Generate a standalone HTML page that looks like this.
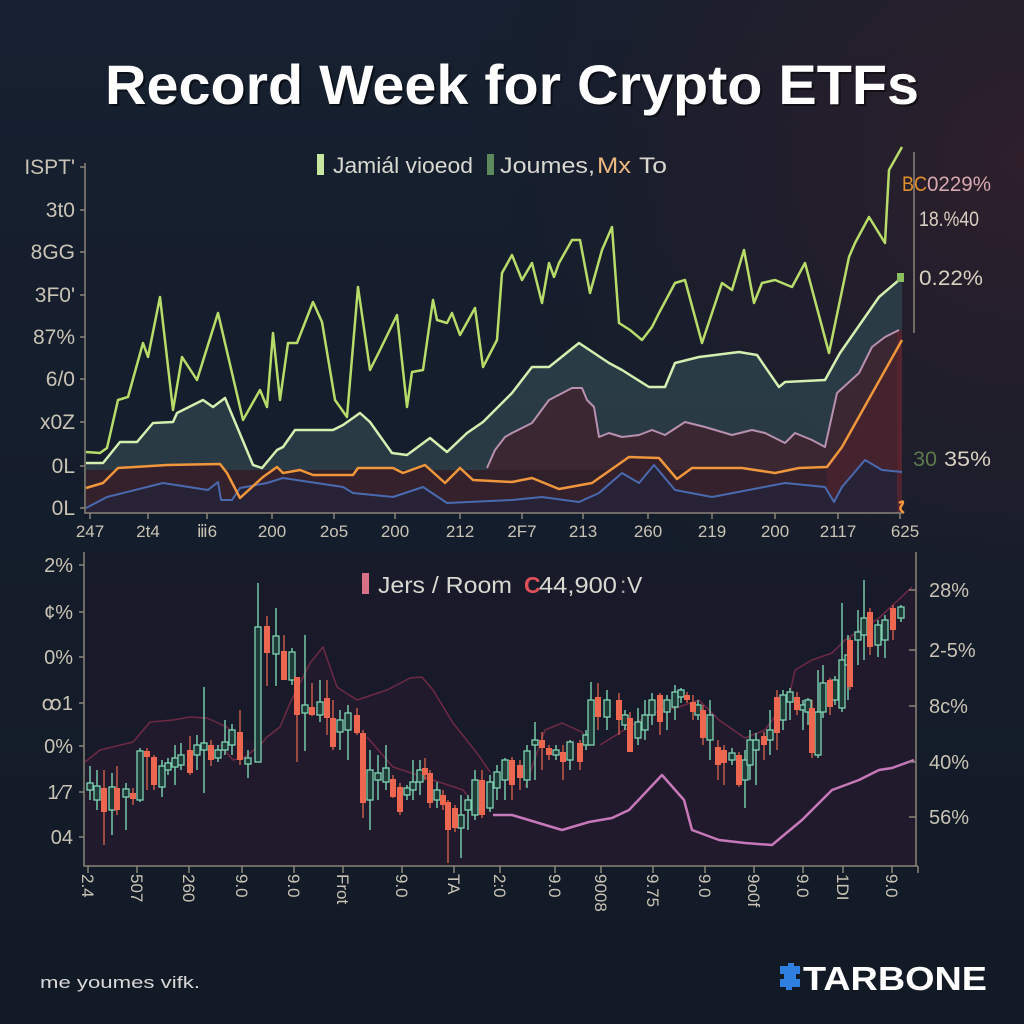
<!DOCTYPE html>
<html><head><meta charset="utf-8"><style>
html,body{margin:0;padding:0;background:#151d2a;}
svg{display:block;}
text{font-family:"Liberation Sans",sans-serif;}
</style></head><body>
<svg width="1024" height="1024" viewBox="0 0 1024 1024" xmlns="http://www.w3.org/2000/svg">
<defs>
<radialGradient id="rg" cx="1024" cy="160" r="560" gradientUnits="userSpaceOnUse">
<stop offset="0" stop-color="#2e1f2b"/><stop offset="0.6" stop-color="#221e2b" stop-opacity="0.6"/><stop offset="1" stop-color="#151d2a" stop-opacity="0"/>
</radialGradient>
<linearGradient id="bg" x1="0" y1="0" x2="0" y2="1">
<stop offset="0" stop-color="#172030"/><stop offset="1" stop-color="#121a26"/>
</linearGradient>
</defs>
<rect width="1024" height="1024" fill="url(#bg)"/>
<rect width="1024" height="1024" fill="url(#rg)"/>

<!-- Title -->
<text x="512" y="104" text-anchor="middle" font-size="56" font-weight="bold" fill="#000" opacity="0.5" textLength="814" lengthAdjust="spacingAndGlyphs" transform="translate(2,2)">Record Week for Crypto ETFs</text>
<text x="512" y="104" text-anchor="middle" font-size="56" font-weight="bold" fill="#ffffff" textLength="814" lengthAdjust="spacingAndGlyphs">Record Week for Crypto ETFs</text>

<!-- ============ TOP CHART ============ -->
<!-- red band -->
<rect x="86" y="466" width="816" height="47" fill="#2f2029"/>
<!-- teal area -->
<path d="M86,463 103,463 120,442 137,442 153,423 173,422 177,413 203,400 213,407 225,398 253,465 262,468 277,450 283,447 295,430 333,430 343,425 360,413 370,422 392,453 407,455 430,438 447,452 467,433 483,422 512,393 532,367 549,367 579,343 609,363 622,370 649,387 665,387 675,363 699,357 739,352 757,355 779,387 785,382 825,380 840,353 879,297 899,280 902,280 902,470 86,470Z" fill="#2b3e48" opacity="0.9"/>
<!-- mauve area -->
<path d="M487,468 495,450 505,437 512,433 532,423 549,400 572,388 582,388 587,400 594,407 599,437 609,433 622,437 639,435 652,430 665,435 685,422 705,427 732,435 752,430 765,433 785,443 795,433 812,440 825,447 837,393 859,373 872,347 885,337 899,330 902,330 902,470 487,470Z" fill="#3b2731"/>
<!-- area under orange -->
<path d="M86,488 103,483 118,468 167,465 220,464 227,473 240,498 263,477 277,467 283,473 300,470 313,475 353,475 358,468 393,468 403,473 425,465 445,483 460,468 473,480 512,482 532,478 559,489 592,483 629,457 659,458 677,479 692,468 742,468 775,473 799,468 827,467 842,447 902,340 902,513 86,513Z" fill="#34212b"/>
<path d="M827,467 842,447 902,340 902,513 827,513Z" fill="#4a2430" opacity="0.8"/>
<!-- area under blue -->
<path d="M86,508 107,497 163,483 208,490 218,482 221,500 232,500 240,488 267,483 283,478 343,487 353,493 393,497 423,487 447,503 512,500 542,497 579,502 599,493 622,473 639,483 654,465 675,490 712,497 785,483 825,487 834,502 842,487 865,460 882,470 902,472 902,513 86,513Z" fill="#272236"/>
<rect x="897" y="330" width="5" height="183" fill="#5a2430" opacity="0.8"/>

<!-- lines -->
<polyline fill="none" stroke="#4a6ab0" stroke-width="2" stroke-linejoin="round" points="86,508 107,497 163,483 208,490 218,482 221,500 232,500 240,488 267,483 283,478 343,487 353,493 393,497 423,487 447,503 512,500 542,497 579,502 599,493 622,473 639,483 654,465 675,490 712,497 785,483 825,487 834,502 842,487 865,460 882,470 902,472"/>
<polyline fill="none" stroke="#f0963c" stroke-width="2.5" stroke-linejoin="round" points="86,488 103,483 118,468 167,465 220,464 227,473 240,498 263,477 277,467 283,473 300,470 313,475 353,475 358,468 393,468 403,473 425,465 445,483 460,468 473,480 512,482 532,478 559,489 592,483 629,457 659,458 677,479 692,468 742,468 775,473 799,468 827,467 842,447 902,340"/>
<polyline fill="none" stroke="#b890b0" stroke-width="2" stroke-linejoin="round" points="487,468 495,450 505,437 512,433 532,423 549,400 572,388 582,388 587,400 594,407 599,437 609,433 622,437 639,435 652,430 665,435 685,422 705,427 732,435 752,430 765,433 785,443 795,433 812,440 825,447 837,393 859,373 872,347 885,337 899,330"/>
<polyline fill="none" stroke="#d4efb0" stroke-width="2.5" stroke-linejoin="round" points="86,463 103,463 120,442 137,442 153,423 173,422 177,413 203,400 213,407 225,398 253,465 262,468 277,450 283,447 295,430 333,430 343,425 360,413 370,422 392,453 407,455 430,438 447,452 467,433 483,422 512,393 532,367 549,367 579,343 609,363 622,370 649,387 665,387 675,363 699,357 739,352 757,355 779,387 785,382 825,380 840,353 879,297 899,280"/>
<polyline fill="none" stroke="#b8dc6a" stroke-width="2.5" stroke-linejoin="round" points="86,452 100,453 107,448 118,400 128,397 143,343 148,357 160,297 173,410 182,357 197,380 218,313 243,420 260,390 267,407 273,333 280,400 288,343 297,343 313,302 322,322 335,400 347,417 358,287 370,370 380,350 397,315 407,407 412,372 423,370 433,300 437,320 447,323 452,313 460,335 475,308 483,367 497,340 502,273 512,255 522,280 532,263 542,303 549,263 554,277 559,263 572,240 580,240 590,293 602,250 612,227 619,323 630,330 642,340 652,327 659,313 675,283 685,280 702,343 722,283 732,290 744,250 754,303 762,283 775,280 792,287 805,263 829,353 849,257 855,243 869,217 885,243 889,170 902,147"/>
<rect x="897" y="273" width="7" height="9" fill="#8ac060"/>
<path d="M899,503 q6,-4 3,2 q-4,4 2,8" stroke="#f0963c" stroke-width="2.5" fill="none"/>

<!-- axes -->
<g stroke="#8a8478" stroke-width="1.5" fill="none">
<path d="M85,163 V513 H902"/>
<path d="M914,152 V333"/>
<path d="M80,167h5M80,210h5M80,252h5M80,295h5M80,337h5M80,379h5M80,422h5M80,466h5M80,508h5"/>
<path d="M90,513v6M148,513v6M207,513v6M272,513v6M334,513v6M395,513v6M460,513v6M522,513v6M583,513v6M648,513v6M712,513v6M775,513v6M838,513v6M900,513v6"/>
</g>
<g font-size="21" fill="#c9c3b5" text-anchor="end">
<text x="75" y="174">ISPT'</text>
<text x="75" y="217">3t0</text>
<text x="75" y="259">8GG</text>
<text x="75" y="302">3F0'</text>
<text x="75" y="344">87%</text>
<text x="75" y="386">6/0</text>
<text x="75" y="429">x0Z</text>
<text x="75" y="473">0L</text>
<text x="75" y="515">0L</text>
</g>
<g font-size="17" fill="#c9c3b5" text-anchor="middle">
<text x="90" y="537">247</text>
<text x="148" y="537">2t4</text>
<text x="207" y="537">ⅲ6</text>
<text x="272" y="537">200</text>
<text x="334" y="537">2o5</text>
<text x="395" y="537">200</text>
<text x="460" y="537">212</text>
<text x="522" y="537">2F7</text>
<text x="583" y="537">213</text>
<text x="648" y="537">260</text>
<text x="712" y="537">219</text>
<text x="775" y="537">200</text>
<text x="838" y="537">2117</text>
<text x="905" y="537">625</text>
</g>
<!-- legend top -->
<rect x="317" y="154" width="7" height="21" fill="#c8e6a0"/>
<text x="333" y="173" font-size="22" fill="#d8d8d0" textLength="140" lengthAdjust="spacingAndGlyphs">Jamiál vioeod</text>
<rect x="487" y="154" width="7" height="21" fill="#5c8a5c"/>
<text x="500" y="173" font-size="22" fill="#d8d8d0" textLength="95" lengthAdjust="spacingAndGlyphs">Joumes,</text>
<text x="597" y="173" font-size="22" fill="#eab880" textLength="34" lengthAdjust="spacingAndGlyphs">Mx</text>
<text x="639" y="173" font-size="22" fill="#d8d8d0" textLength="28" lengthAdjust="spacingAndGlyphs">To</text>
<!-- right labels top -->
<text x="902" y="191" font-size="21" fill="#e0902c" textLength="25" lengthAdjust="spacingAndGlyphs">BC</text>
<text x="927" y="191" font-size="21" fill="#d8a8b0" textLength="64" lengthAdjust="spacingAndGlyphs">0229%</text>
<text x="919" y="226" font-size="21" fill="#d8d0c0" textLength="60" lengthAdjust="spacingAndGlyphs">18.%40</text>
<text x="919" y="285" font-size="21" fill="#d8d0c0" textLength="64" lengthAdjust="spacingAndGlyphs">0.22%</text>
<text x="913" y="466" font-size="21" fill="#5c7a4c" textLength="24" lengthAdjust="spacingAndGlyphs">30</text>
<text x="944" y="466" font-size="21" fill="#d8d0c0" textLength="47" lengthAdjust="spacingAndGlyphs">35%</text>

<!-- ============ BOTTOM CHART ============ -->
<rect x="85" y="552" width="831" height="314" fill="#1c1a2a" opacity="0.55"/>
<path d="M85,762 100,750 133,742 150,722 173,720 190,717 207,718 227,727 235,735 260,745 267,737 280,727 290,703 310,663 323,647 337,687 357,700 387,690 410,678 422,677 433,690 453,723 477,753 490,772 525,787 545,730 562,723 582,732 600,745 629,727 652,713 679,707 699,700 719,720 745,738 765,730 789,697 795,670 812,660 832,653 845,640 865,627 879,618 895,603 912,587 916,587 916,866 85,866Z" fill="#221b2d" opacity="0.9"/>
<g fill="none" stroke="#6e2a44" stroke-width="1.5" stroke-linejoin="round">
<polyline points="85,762 100,750 133,742 150,722 173,720 190,717 207,718 227,727 235,735"/>
<polyline points="220,745 233,760 245,757 260,745 267,737 280,727 290,703 310,663 323,647 337,687 357,700 387,690 410,678 422,677 433,690 453,723 477,753 490,772"/>
<polyline points="367,737 393,767 433,780 463,790 467,795"/>
<polyline points="525,787 545,730 562,723 582,732 590,745"/>
<polyline points="600,745 629,727 652,713 679,707 699,700 719,720 745,738 765,730 789,697 795,670 812,660 832,653 845,640 865,627 879,618 895,603 912,587"/>
</g>
<polyline fill="none" stroke="#c678b8" stroke-width="2.5" stroke-linejoin="round" points="493,815 512,815 562,830 589,822 612,818 629,810 662,775 684,800 692,830 719,840 745,843 772,845 802,820 832,790 859,780 879,770 892,768 914,760"/>

<!-- green wicks -->
<path stroke="#74c8a8" stroke-width="1.5" fill="none" d="M90,766V800M97,770V810M112,773V835M126,783V830M140,748V802M162,760V797M168,758V775M175,745V785M181,743V770M197,735V770M204,687V793M218,745V762M225,720V755M232,724V755M248,750V778M258,583V762M276,608V686M292,648V685M305,635V751M320,680V722M340,710V750M348,705V760M370,750V830M378,755V800M386,745V790M407,785V800M413,760V800M420,760V795M437,782V808M461,795V858M468,795V830M475,770V820M490,775V812M497,765V800M505,758V800M527,745V788M535,722V780M556,745V760M570,740V770M586,730V750M591,682V745M607,690V730M625,710V730M638,708V745M645,700V740M652,693V725M667,695V730M675,685V720M681,688V703M698,700V720M710,700V760M732,748V765M745,750V808M750,730V780M756,733V785M770,710V755M783,690V730M790,688V720M803,700V730M808,698V725M818,670V758M823,665V718M835,676V705M842,603V712M848,635V700M858,610V665M864,580V660M878,620V657M885,615V658M901,605V622"/>
<!-- red wicks -->
<path stroke="#c45a48" stroke-width="1.5" fill="none" d="M104,770V845M117,766V815M133,788V805M147,748V790M154,755V790M190,736V775M211,740V766M240,710V765M267,616V686M284,635V680M297,677V762M312,683V716M327,680V735M333,700V750M357,708V735M363,730V818M393,775V798M400,783V815M425,758V780M430,770V808M443,790V810M448,800V863M455,805V832M482,770V818M512,757V800M520,760V790M542,732V770M549,745V760M563,745V780M580,740V770M598,683V730M619,693V735M630,712V752M660,693V735M687,692V703M693,695V720M703,705V745M718,740V780M724,745V785M739,752V787M764,732V760M777,690V750M797,692V715M812,700V758M830,678V715M850,638V690M870,608V655M893,605V640"/>
<!-- green bodies -->
<g fill="#1e3b38" stroke="#80d4b4" stroke-width="1.3">
<rect x="87" y="783" width="6" height="7"/><rect x="94" y="786" width="6" height="14"/><rect x="109" y="787" width="6" height="23"/><rect x="123" y="789" width="6" height="8"/><rect x="137" y="751" width="6" height="49"/><rect x="159" y="766" width="6" height="21"/><rect x="165" y="763" width="6" height="7"/><rect x="172" y="758" width="6" height="9"/><rect x="178" y="755" width="6" height="10"/><rect x="194" y="745" width="6" height="10"/><rect x="201" y="743" width="6" height="7"/><rect x="215" y="750" width="6" height="8"/><rect x="222" y="742" width="6" height="8"/><rect x="229" y="730" width="6" height="15"/><rect x="245" y="758" width="6" height="6"/><rect x="255" y="627" width="6" height="135"/><rect x="273" y="636" width="6" height="18"/><rect x="289" y="652" width="6" height="28"/><rect x="302" y="705" width="6" height="8"/><rect x="317" y="702" width="6" height="13"/><rect x="337" y="720" width="6" height="12"/><rect x="345" y="713" width="6" height="17"/><rect x="367" y="770" width="6" height="30"/><rect x="375" y="773" width="6" height="7"/><rect x="383" y="768" width="6" height="14"/><rect x="404" y="788" width="6" height="7"/><rect x="410" y="782" width="6" height="8"/><rect x="417" y="770" width="6" height="12"/><rect x="434" y="790" width="6" height="10"/><rect x="458" y="815" width="6" height="13"/><rect x="465" y="800" width="6" height="10"/><rect x="472" y="780" width="6" height="35"/><rect x="487" y="782" width="6" height="26"/><rect x="494" y="772" width="6" height="16"/><rect x="502" y="760" width="6" height="20"/><rect x="524" y="751" width="6" height="29"/><rect x="532" y="740" width="6" height="5"/><rect x="553" y="750" width="6" height="5"/><rect x="567" y="742" width="6" height="18"/><rect x="583" y="735" width="6" height="10"/><rect x="588" y="700" width="6" height="45"/><rect x="604" y="700" width="6" height="17"/><rect x="622" y="715" width="6" height="10"/><rect x="635" y="722" width="6" height="16"/><rect x="642" y="715" width="6" height="15"/><rect x="649" y="700" width="6" height="15"/><rect x="664" y="700" width="6" height="12"/><rect x="672" y="692" width="6" height="15"/><rect x="678" y="690" width="6" height="7"/><rect x="695" y="705" width="6" height="10"/><rect x="707" y="715" width="6" height="25"/><rect x="729" y="753" width="6" height="7"/><rect x="742" y="760" width="6" height="20"/><rect x="747" y="740" width="6" height="25"/><rect x="753" y="740" width="6" height="10"/><rect x="767" y="730" width="6" height="10"/><rect x="780" y="695" width="6" height="25"/><rect x="787" y="692" width="6" height="10"/><rect x="800" y="705" width="6" height="5"/><rect x="805" y="700" width="6" height="12"/><rect x="815" y="712" width="6" height="43"/><rect x="820" y="683" width="6" height="29"/><rect x="832" y="680" width="6" height="20"/><rect x="839" y="660" width="6" height="48"/><rect x="845" y="655" width="6" height="10"/><rect x="855" y="632" width="6" height="8"/><rect x="861" y="618" width="6" height="17"/><rect x="875" y="625" width="6" height="20"/><rect x="882" y="620" width="6" height="20"/><rect x="898" y="607" width="6" height="11"/>
</g>
<!-- red bodies -->
<g fill="#ec6650">
<rect x="101" y="788" width="6" height="24"/><rect x="114" y="788" width="6" height="22"/><rect x="130" y="793" width="6" height="6"/><rect x="144" y="751" width="6" height="6"/><rect x="151" y="757" width="6" height="28"/><rect x="187" y="750" width="6" height="23"/><rect x="208" y="745" width="6" height="15"/><rect x="237" y="732" width="6" height="28"/><rect x="264" y="626" width="6" height="27"/><rect x="281" y="651" width="6" height="29"/><rect x="294" y="677" width="6" height="38"/><rect x="309" y="707" width="6" height="8"/><rect x="324" y="698" width="6" height="20"/><rect x="330" y="718" width="6" height="29"/><rect x="354" y="715" width="6" height="18"/><rect x="360" y="733" width="6" height="70"/><rect x="390" y="779" width="6" height="18"/><rect x="397" y="787" width="6" height="25"/><rect x="422" y="768" width="6" height="7"/><rect x="427" y="773" width="6" height="30"/><rect x="440" y="795" width="6" height="10"/><rect x="445" y="802" width="6" height="28"/><rect x="452" y="808" width="6" height="20"/><rect x="479" y="780" width="6" height="35"/><rect x="509" y="760" width="6" height="25"/><rect x="517" y="765" width="6" height="13"/><rect x="539" y="740" width="6" height="8"/><rect x="546" y="748" width="6" height="7"/><rect x="560" y="752" width="6" height="10"/><rect x="577" y="743" width="6" height="19"/><rect x="595" y="697" width="6" height="20"/><rect x="616" y="700" width="6" height="20"/><rect x="627" y="718" width="6" height="34"/><rect x="657" y="695" width="6" height="27"/><rect x="684" y="695" width="6" height="5"/><rect x="690" y="702" width="6" height="10"/><rect x="700" y="710" width="6" height="28"/><rect x="715" y="747" width="6" height="18"/><rect x="721" y="750" width="6" height="13"/><rect x="736" y="755" width="6" height="30"/><rect x="761" y="736" width="6" height="9"/><rect x="774" y="697" width="6" height="36"/><rect x="794" y="697" width="6" height="13"/><rect x="809" y="708" width="6" height="45"/><rect x="827" y="680" width="6" height="27"/><rect x="847" y="640" width="6" height="47"/><rect x="867" y="612" width="6" height="35"/><rect x="890" y="608" width="6" height="22"/>
</g>

<!-- bottom axes -->
<g stroke="#8a8478" stroke-width="1.5" fill="none">
<path d="M84,552 V866 H918"/>
<path d="M916,552 V866"/>
<path d="M79,565h5M79,612h5M79,657h5M79,703h5M79,746h5M79,792h5M79,837h5"/>
<path d="M909,590h7M909,650h7M909,706h7M909,762h7M909,817h7"/>
<path d="M88,866v7M137,866v7M189,866v7M242,866v7M294,866v7M343,866v7M402,866v7M454,866v7M500,866v7M555,866v7M601,866v7M653,866v7M705,866v7M754,866v7M803,866v7M843,866v7M892,866v7M918,866v7"/>
</g>
<g font-size="20" fill="#c9c3b5" text-anchor="end">
<text x="73" y="572">2%</text>
<text x="73" y="619">¢%</text>
<text x="73" y="664">0%</text>
<text x="73" y="710">ꝏ1</text>
<text x="73" y="753">0%</text>
<text x="73" y="799">1⁄7</text>
<text x="73" y="844">04</text>
</g>
<g font-size="20" fill="#c9c3b5">
<text x="929" y="597">28%</text>
<text x="929" y="657">2-5%</text>
<text x="929" y="713">8c%</text>
<text x="929" y="769">40%</text>
<text x="929" y="824">56%</text>
</g>
<g font-size="17" fill="#c9c3b5">
<text transform="translate(82,874) rotate(90)">2.4</text>
<text transform="translate(131,874) rotate(90)">507</text>
<text transform="translate(183,874) rotate(90)">260</text>
<text transform="translate(236,874) rotate(90)">9.0</text>
<text transform="translate(288,874) rotate(90)">9.0</text>
<text transform="translate(337,874) rotate(90)">Frot</text>
<text transform="translate(396,874) rotate(90)">9.0</text>
<text transform="translate(448,874) rotate(90)">TA</text>
<text transform="translate(494,874) rotate(90)">2:0</text>
<text transform="translate(549,874) rotate(90)">9.0</text>
<text transform="translate(595,874) rotate(90)">9008</text>
<text transform="translate(647,874) rotate(90)">9.75</text>
<text transform="translate(699,874) rotate(90)">9.0</text>
<text transform="translate(748,874) rotate(90)">9o0f</text>
<text transform="translate(797,874) rotate(90)">9.0</text>
<text transform="translate(837,874) rotate(90)">1DI</text>
<text transform="translate(886,874) rotate(90)">9.0</text>
</g>
<!-- legend bottom -->
<rect x="362" y="573" width="7" height="21" fill="#d87088"/>
<text x="378" y="593" font-size="23" fill="#d8d8d0" textLength="134" lengthAdjust="spacingAndGlyphs">Jers / Room</text>
<text x="524" y="593" font-size="23" font-weight="bold" fill="#e0505a">C</text>
<text x="539" y="593" font-size="23" fill="#d8d8d0" textLength="78" lengthAdjust="spacingAndGlyphs">44,900</text>
<text x="620" y="593" font-size="23" fill="#a8a8a0">:</text>
<text x="627" y="593" font-size="23" fill="#d8d8d0">V</text>

<!-- footer -->
<text x="40" y="988" font-size="17" fill="#d8d8d8" textLength="160" lengthAdjust="spacingAndGlyphs">me youmes vifk.</text>
<path d="M780,966h8v-3h6v3h6v8h-4v5h4v8h-8v3h-6v-3h-6v-8h4v-5h-4z" fill="#2f7fe0"/>
<text x="803" y="990" font-size="33" font-weight="bold" fill="#ffffff" textLength="184" lengthAdjust="spacingAndGlyphs">TARBONE</text>
</svg>
</body></html>
